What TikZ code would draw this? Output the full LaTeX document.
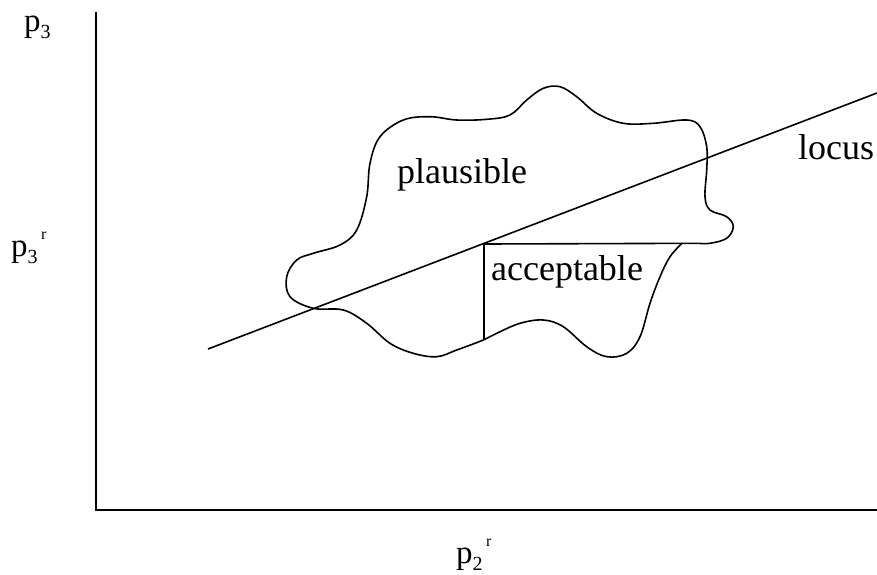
\documentclass[tikz,border=0pt]{standalone}
\usepackage{fontspec}
\setmainfont{Liberation Serif}
\newcommand{\psub}[1]{\raisebox{-0.22em}{\fontsize{20}{20}\selectfont #1}}
\newcommand{\psup}{\hspace{0.1em}\raisebox{0.5em}{\fontsize{16}{16}\selectfont r}}
\begin{document}
\begin{tikzpicture}[x=1pt,y=-1pt,
  ln/.style={line width=1.6pt,black},
  lbl/.style={font=\fontsize{36}{40}\selectfont,inner sep=0pt},
  axl/.style={font=\fontsize{33}{40}\selectfont,inner sep=0pt,anchor=west}]
\useasboundingbox (0,0) rectangle (877,574);
% axes
\coordinate (ytop) at (96,12);
\coordinate (orig) at (96,510);
\coordinate (xend) at (877,510);
\draw[ln] (ytop) -- (orig) -- (xend);
% axis labels
\node[axl] (p3) at (24,27) {p\psub{3}};
\node[axl] (p3r) at (11,248) {p\psub{3}\psup};
\node[axl] (p2r) at (456,555) {p\psub{2}\psup};
% locus line
\coordinate (l0) at (208,349);
\coordinate (l1) at (877,93);
\draw[ln] (l0) -- (l1);
% blob
\draw[ln] plot[smooth,tension=0.6] coordinates {
 (682,243.3) (670,256.7) (660,276.7) (650,303.3) (640,336.7) (626.7,353.3)
 (606.7,356.7) (586.7,346.7) (563.3,326.7) (543.3,320) (520,323.3) (496.7,333.3)
 (483.3,340) (456.7,350) (436.7,356.7) (413.3,353.3) (390,343.3) (366.7,323.3)
 (343.3,310) (313.3,308.3) (290,296.7) (286.7,276.7) (296.7,260) (313.3,253.3)
 (340,245) (356.7,230) (366.7,196.7) (370,163.3) (380,136.7) (403.3,120)
 (430,116.7) (456.7,120) (486.7,119.3) (510,115) (526.7,100) (543.3,88.3)
 (560,86.7) (576.7,96.7) (596.7,113.3) (623.3,123.3) (653.3,123.3) (686.7,120)
 (700,126.7) (706.7,146.7) (706.7,170) (705,196.7) (710,210) (726.7,216.7)
 (733.3,226.7) (726.7,238.3) (710,243.3) (698.3,243.3)};
% acceptable region boundaries
\coordinate (a0) at (484,244);
\coordinate (a1) at (698.3,243.3);
\coordinate (a2) at (484,340);
\draw[ln] (a0) -- (a1);
\draw[ln] (a0) -- (a2);
% labels
\node[lbl] (plaus) at (462,175) {plausible};
\node[lbl] (acc) at (567,272) {acceptable};
\node[lbl] (locus) at (836,147) {locus};
\end{tikzpicture}
\end{document}
